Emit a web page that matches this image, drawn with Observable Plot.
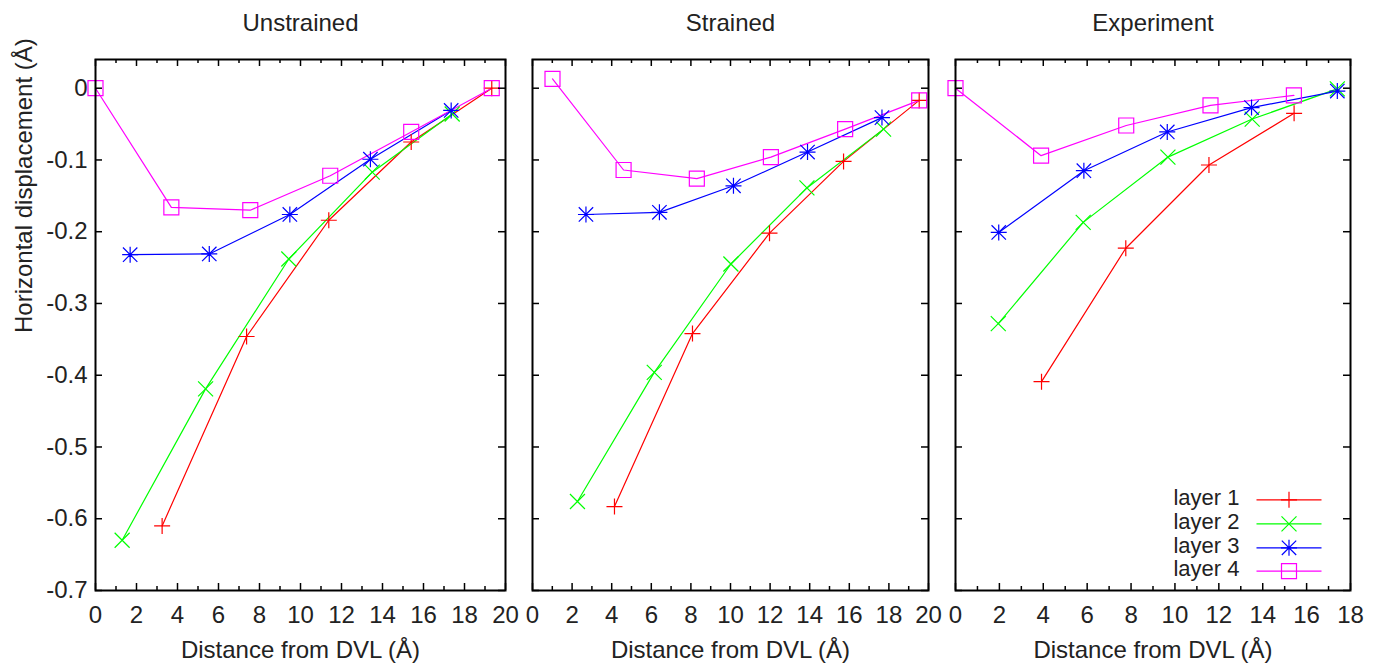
<!DOCTYPE html>
<html>
<head>
<meta charset="utf-8">
<script src="https://cdn.jsdelivr.net/npm/d3@7"></script>
<script src="https://cdn.jsdelivr.net/npm/@observablehq/plot@0.6"></script>
<style>
  body { margin: 0; background: #fff; }
  #wrap { position: relative; width: 1383px; height: 664px; overflow: hidden; }
  #wrap svg { position: absolute; left: 0; top: 0; }
</style>
</head>
<body>
<div id="wrap"></div>
<script>
// ---------------- data ----------------
const panelTitles = ["Unstrained", "Strained", "Experiment"];
const layerNames = ["layer 1", "layer 2", "layer 3", "layer 4"];
const layerColors = ["#ff0000", "#00ff00", "#0000ff", "#ff00ff"];

// [distance (Å), horizontal displacement (Å)]
const unstrainedLayer1 = [[3.25, -0.610], [7.37, -0.346], [11.38, -0.184], [15.40, -0.075], [19.33, 0.000]];
const unstrainedLayer2 = [[1.30, -0.630], [5.37, -0.419], [9.43, -0.238], [13.50, -0.117], [17.40, -0.036]];
const unstrainedLayer3 = [[1.69, -0.232], [5.55, -0.231], [9.48, -0.176], [13.41, -0.099], [17.35, -0.031]];
const unstrainedLayer4 = [[0.00, 0.000], [3.70, -0.166], [7.55, -0.170], [11.45, -0.122], [15.40, -0.061], [19.33, 0.000]];

const strainedLayer1 = [[4.14, -0.583], [8.08, -0.342], [11.97, -0.202], [15.71, -0.102], [19.53, -0.017]];
const strainedLayer2 = [[2.27, -0.576], [6.15, -0.396], [10.02, -0.245], [13.86, -0.139], [17.73, -0.057]];
const strainedLayer3 = [[2.70, -0.176], [6.41, -0.173], [10.15, -0.136], [13.89, -0.089], [17.65, -0.041]];
const strainedLayer4 = [[1.01, 0.013], [4.60, -0.114], [8.30, -0.126], [12.04, -0.096], [15.79, -0.057], [19.53, -0.017]];

const experimentLayer1 = [[3.92, -0.409], [7.76, -0.223], [11.55, -0.107], [15.43, -0.035]];
const experimentLayer2 = [[1.95, -0.328], [5.82, -0.187], [9.68, -0.096], [13.52, -0.043], [17.40, -0.001]];
const experimentLayer3 = [[1.97, -0.201], [5.85, -0.115], [9.65, -0.061], [13.49, -0.027], [17.40, -0.004]];
const experimentLayer4 = [[0.00, 0.000], [3.90, -0.094], [7.78, -0.052], [11.62, -0.024], [15.42, -0.010]];

// ticks
const xMajor20 = [0, 2, 4, 6, 8, 10, 12, 14, 16, 18, 20];
const xMinor20 = [1, 3, 5, 7, 9, 11, 13, 15, 17, 19];
const xMajor18 = [0, 2, 4, 6, 8, 10, 12, 14, 16, 18];
const xMinor18 = [1, 3, 5, 7, 9, 11, 13, 15, 17];
const yTicks = [0, -0.1, -0.2, -0.3, -0.4, -0.5, -0.6, -0.7];
const xLabel = "Distance from DVL (Å)";
const yLabel = "Horizontal displacement (Å)";

// ---------------- layout ----------------
const W = 1383, H = 664;
const frameTop = 59, frameBottom = 590;
const frames = [[95, 505], [532, 928], [955, 1350]];
const xDomains = [[0, 20], [0, 20], [0, 18]];
const yDomain = [-0.7, 0.04];
const FONT = "'Liberation Sans', Arial, Helvetica, sans-serif";
const FS = 24;
const LEGEND_FS = 22;
const TXT = "#222";

// gnuplot-like marker shapes (r == half size)
const half = (size) => Math.sqrt(size / Math.PI);
const symPlus = { draw(c, s) { const h = half(s); c.moveTo(-h, 0); c.lineTo(h, 0); c.moveTo(0, -h); c.lineTo(0, h); } };
const symTimes = { draw(c, s) { const h = half(s); c.moveTo(-h, -h); c.lineTo(h, h); c.moveTo(-h, h); c.lineTo(h, -h); } };
const symStar = { draw(c, s) { const h = half(s); const d = h * 0.9; c.moveTo(-h, 0); c.lineTo(h, 0); c.moveTo(0, -h); c.lineTo(0, h); c.moveTo(-d, -d); c.lineTo(d, d); c.moveTo(-d, d); c.lineTo(d, -d); } };
const symSquare = { draw(c, s) { const h = half(s); c.rect(-h, -h, 2 * h, 2 * h); } };
const symLine = { draw(c, s) { const h = half(s); c.moveTo(-h, 0); c.lineTo(h, 0); } };
const layerSymbols = [symPlus, symTimes, symStar, symSquare];
const layerR = [8, 7.5, 8, 7.5];

const panelData = [
  [unstrainedLayer1, unstrainedLayer2, unstrainedLayer3, unstrainedLayer4],
  [strainedLayer1, strainedLayer2, strainedLayer3, strainedLayer4],
  [experimentLayer1, experimentLayer2, experimentLayer3, experimentLayer4]
];

const wrap = document.getElementById("wrap");

panelTitles.forEach((title, p) => {
  const [L, R] = frames[p];
  const fw = R - L, fh = frameBottom - frameTop;
  const major = p === 2 ? xMajor18 : xMajor20;
  const minor = p === 2 ? xMinor18 : xMinor20;
  const marks = [];

  panelData[p].forEach((series, k) => {
    marks.push(Plot.line(series, { x: d => d[0], y: d => d[1], stroke: layerColors[k], strokeWidth: 1.2 }));
  });
  panelData[p].forEach((series, k) => {
    marks.push(Plot.dot(series, { x: d => d[0], y: d => d[1], symbol: layerSymbols[k], r: layerR[k], stroke: layerColors[k], strokeWidth: 1.2, fill: "none" }));
  });

  marks.push(Plot.ruleX(major, { x: d => d, insetTop: fh - 7, stroke: "#000", strokeWidth: 1.5 }));
  marks.push(Plot.ruleX(major, { x: d => d, insetBottom: fh - 7, stroke: "#000", strokeWidth: 1.5 }));
  marks.push(Plot.ruleX(minor, { x: d => d, insetTop: fh - 4, stroke: "#000", strokeWidth: 1.5 }));
  marks.push(Plot.ruleX(minor, { x: d => d, insetBottom: fh - 4, stroke: "#000", strokeWidth: 1.5 }));
  marks.push(Plot.ruleY(yTicks, { y: d => d, insetRight: fw - 7, stroke: "#000", strokeWidth: 1.5 }));
  marks.push(Plot.ruleY(yTicks, { y: d => d, insetLeft: fw - 7, stroke: "#000", strokeWidth: 1.5 }));
  marks.push(Plot.frame({ stroke: "#000", strokeWidth: 2 }));

  marks.push(Plot.axisX(major, { tickSize: 0, tickPadding: 15, label: null, fontSize: FS, fill: TXT, tickFormat: d => String(d) }));
  if (p === 0) {
    marks.push(Plot.axisY(yTicks, { tickSize: 0, tickPadding: 8, label: null, fontSize: FS, fill: TXT, tickFormat: d => String(d) }));
    marks.push(Plot.text([yLabel], { text: d => d, frameAnchor: "left", dx: -71, dy: 8, rotate: -90, fontSize: FS, fill: TXT }));
  }
  marks.push(Plot.text([title], { text: d => d, frameAnchor: "top", dy: -46, fontSize: FS, fill: TXT }));
  marks.push(Plot.text([xLabel], { text: d => d, frameAnchor: "bottom", dy: 67, fontSize: FS, fill: TXT }));

  if (p === 2) {
    const rowsDy = [-90.7, -66.7, -42.7, -19.3];
    layerNames.forEach((name, k) => {
      marks.push(Plot.text([name], { text: d => d, frameAnchor: "bottom-right", dx: -111, dy: rowsDy[k] + 5, textAnchor: "end", fontSize: LEGEND_FS, fill: TXT }));
      marks.push(Plot.dot([name], { frameAnchor: "bottom-right", dx: -61.5, dy: rowsDy[k], symbol: symLine, r: 32.5, stroke: layerColors[k], strokeWidth: 1.2 }));
      marks.push(Plot.dot([name], { frameAnchor: "bottom-right", dx: -61.5, dy: rowsDy[k], symbol: layerSymbols[k], r: layerR[k], stroke: layerColors[k], strokeWidth: 1.2, fill: "none" }));
    });
  }

  const svg = Plot.plot({
    width: W,
    height: H,
    marginLeft: L,
    marginRight: W - R,
    marginTop: frameTop,
    marginBottom: H - frameBottom,
    x: { domain: xDomains[p], axis: null },
    y: { domain: yDomain, axis: null },
    style: { fontFamily: FONT, fontSize: FS + "px", color: TXT, background: "transparent", overflow: "visible" },
    marks
  });
  wrap.appendChild(svg);
});
</script>
</body>
</html>
